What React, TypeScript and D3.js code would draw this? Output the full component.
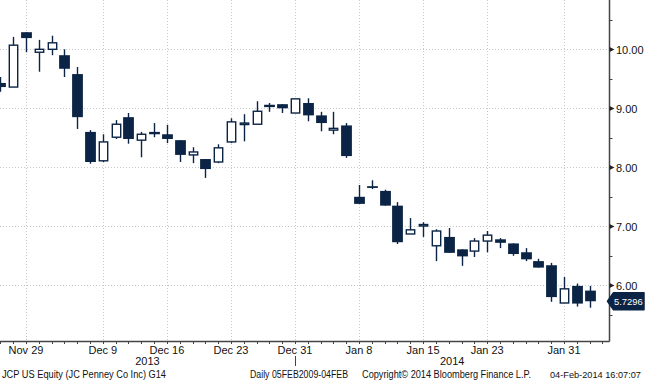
import React from "react";
import * as d3 from "d3";

const dates = [
  "2013-11-26","2013-11-27","2013-11-29","2013-12-02","2013-12-03","2013-12-04","2013-12-05","2013-12-06",
  "2013-12-09","2013-12-10","2013-12-11","2013-12-12","2013-12-13","2013-12-16","2013-12-17","2013-12-18",
  "2013-12-19","2013-12-20","2013-12-23","2013-12-24","2013-12-26","2013-12-27","2013-12-30","2013-12-31",
  "2014-01-02","2014-01-03","2014-01-06","2014-01-07","2014-01-08","2014-01-09","2014-01-10","2014-01-13",
  "2014-01-14","2014-01-15","2014-01-16","2014-01-17","2014-01-21","2014-01-22","2014-01-23","2014-01-24",
  "2014-01-27","2014-01-28","2014-01-29","2014-01-30","2014-01-31","2014-02-03","2014-02-04",
];
const openP = [9.43,9.36,10.29,9.95,10.0,9.9,9.58,8.6,8.11,8.51,8.85,8.46,8.6,8.56,8.46,8.21,8.14,8.09,8.43,8.74,8.73,9.06,9.07,8.92,9.09,8.88,8.63,8.71,7.5,7.68,7.6,7.35,6.87,7.02,6.67,6.82,6.61,6.58,6.75,6.78,6.71,6.56,6.41,6.34,5.7,5.99,5.91];
const highP = [9.53,10.21,10.29,10.16,10.23,10.0,9.7,8.63,8.56,8.8,8.92,8.6,8.75,8.72,8.46,8.34,8.14,8.39,8.83,8.9,9.12,9.09,9.07,9.16,9.17,8.94,8.94,8.75,7.7,7.78,7.62,7.41,7.14,7.07,6.95,6.97,6.61,6.8,6.92,6.8,6.71,6.63,6.45,6.38,6.14,6.03,5.99];
const lowP = [9.28,9.36,9.95,9.62,9.9,9.53,8.65,8.06,8.09,8.48,8.4,8.17,8.51,8.41,8.09,8.07,7.82,8.07,8.41,8.44,8.73,8.94,8.92,8.92,8.78,8.61,8.56,8.16,7.38,7.63,7.35,6.7,6.87,6.82,6.41,6.55,6.33,6.48,6.56,6.63,6.5,6.41,6.3,5.72,5.7,5.64,5.62];
const closeP = [9.36,10.07,10.19,10.0,10.11,9.67,8.85,8.09,8.43,8.73,8.48,8.56,8.56,8.48,8.21,8.26,7.97,8.33,8.77,8.75,8.95,9.02,9.0,9.16,8.88,8.75,8.66,8.19,7.38,7.65,7.35,6.73,6.94,7.03,6.92,6.55,6.49,6.75,6.85,6.72,6.53,6.44,6.3,5.8,5.94,5.69,5.7296];

const tickDates = ["2013-11-29","2013-12-09","2013-12-16","2013-12-23","2013-12-31","2014-01-08","2014-01-15","2014-01-23","2014-01-31"];
const tickLabels = ["Nov 29","Dec 9","Dec 16","Dec 23","Dec 31","Jan 8","Jan 15","Jan 23","Jan 31"];
const priceTicks = [6, 7, 8, 9, 10];
const minorPriceTicks = [5.5, 6.5, 7.5, 8.5, 9.5, 10.5];
const yearLabels = ["2013", "2014"];
const lastPriceLabel = "5.7296";
const footerLeft = "JCP US Equity (JC Penney Co Inc) G14";
const footerMid = "Daily 05FEB2009-04FEB";
const footerCopy = "Copyright\u00a9 2014 Bloomberg Finance L.P.";
const footerDate = "04-Feb-2014 16:07:07";

const NAVY = "#0b2445";
const AXIS_X = 609.5;
const AXIS_Y = 341.5;

export default function App() {
  const x = d3.scaleLinear().domain([2, 44]).range([26, 564]);
  const y = d3.scaleLinear().domain([6, 10]).range([285.3, 49.3]);
  const font = "'Liberation Sans', Arial, sans-serif";
  const sepIdx = dates.indexOf("2013-12-31");
  const sepX = x(sepIdx);
  const yearCenters = [sepX / 2, (sepX + AXIS_X) / 2];
  const lastY = y(closeP[closeP.length - 1]);
  const tickIdx = d3.range(0, dates.length + 1);

  return (
    <svg width={645} height={380} style={{ position: "absolute", left: 0, top: 0, background: "#fff" }} fontFamily={font}>
      <rect x={0} y={0} width={645} height={380} fill="#fff" />
      {priceTicks.map((p) => (
        <line key={"hg" + p} x1={0} x2={AXIS_X} y1={Math.round(y(p)) + 0.5} y2={Math.round(y(p)) + 0.5} stroke="#c8c8c8" strokeDasharray="1,2" />
      ))}
      {tickDates.map((d) => {
        const xx = Math.round(x(dates.indexOf(d))) + 0.5;
        return <line key={"vg" + d} x1={xx} x2={xx} y1={0} y2={AXIS_Y} stroke="#c8c8c8" strokeDasharray="1,2" />;
      })}
      {dates.map((d, i) => {
        const o = openP[i], c = closeP[i], h = highP[i], l = lowP[i];
        const cx = Math.round(x(i)) + 0.5;
        const up = c > o;
        const top = y(Math.max(o, c));
        const bot = y(Math.min(o, c));
        const bh = Math.max(bot - top, 1.5);
        return (
          <g key={d}>
            <line x1={cx} x2={cx} y1={y(h)} y2={y(l)} stroke={NAVY} strokeWidth={1.4} />
            {up ? (
              <rect x={cx - 4.2} y={top} width={8.4} height={bh} fill="#fff" stroke={NAVY} strokeWidth={1.4} />
            ) : (
              <rect x={cx - 5.4} y={top} width={10.8} height={bh} fill={NAVY} />
            )}
          </g>
        );
      })}
      <line x1={0} x2={AXIS_X} y1={AXIS_Y} y2={AXIS_Y} stroke="#444" strokeWidth={1.3} />
      <line x1={AXIS_X} x2={AXIS_X} y1={0} y2={AXIS_Y} stroke="#444" strokeWidth={1.5} />
      {tickIdx.map((i) => {
        const xx = Math.round(x(i)) + 0.5;
        return <line key={"xt" + i} x1={xx} x2={xx} y1={AXIS_Y} y2={AXIS_Y + 2.5} stroke="#444" strokeWidth={1} />;
      })}
      {tickDates.map((d, k) => (
        <text key={"xl" + d} x={x(dates.indexOf(d))} y={354} fontSize={11} textAnchor="middle" fill="#111">
          {tickLabels[k]}
        </text>
      ))}
      {yearLabels.map((t, k) => (
        <text key={t} x={yearCenters[k]} y={365} fontSize={11} textAnchor="middle" fill="#111">
          {t}
        </text>
      ))}
      <line x1={Math.round(sepX) + 0.5} x2={Math.round(sepX) + 0.5} y1={356} y2={366} stroke="#444" strokeWidth={1} />
      {minorPriceTicks.map((p) => (
        <line key={"mt" + p} x1={AXIS_X} x2={AXIS_X + 3} y1={Math.round(y(p)) + 0.5} y2={Math.round(y(p)) + 0.5} stroke="#444" strokeWidth={1} />
      ))}
      {priceTicks.map((p) => {
        const yy = Math.round(y(p)) + 0.5;
        return (
          <g key={"yt" + p}>
            <path d={`M${AXIS_X},${yy - 2.5} L${AXIS_X + 5},${yy} L${AXIS_X},${yy + 2.5} Z`} fill="#222" />
            <text x={616} y={yy + 4} fontSize={11} fill="#111">
              {d3.format(".2f")(p)}
            </text>
          </g>
        );
      })}
      <path
        d={`M${AXIS_X - 2},${lastY} L${AXIS_X + 4},${lastY - 8.5} L644,${lastY - 8.5} L644,${lastY + 8.5} L${AXIS_X + 4},${lastY + 8.5} Z`}
        fill={NAVY}
        stroke={NAVY}
        strokeLinejoin="round"
        strokeWidth={1.5}
      />
      <text x={614} y={lastY + 3.5} fontSize={9.4} fill="#fff">
        {lastPriceLabel}
      </text>
      <text x={2} y={378} fontSize={10} fill="#111" textLength={164} lengthAdjust="spacingAndGlyphs">
        {footerLeft}
      </text>
      <text x={250} y={378} fontSize={10} fill="#111" textLength={98} lengthAdjust="spacingAndGlyphs">
        {footerMid}
      </text>
      <text x={362} y={378} fontSize={10} fill="#111" textLength={169} lengthAdjust="spacingAndGlyphs">
        {footerCopy}
      </text>
      <text x={550} y={378} fontSize={9.2} fill="#111">
        {footerDate}
      </text>
    </svg>
  );
}
